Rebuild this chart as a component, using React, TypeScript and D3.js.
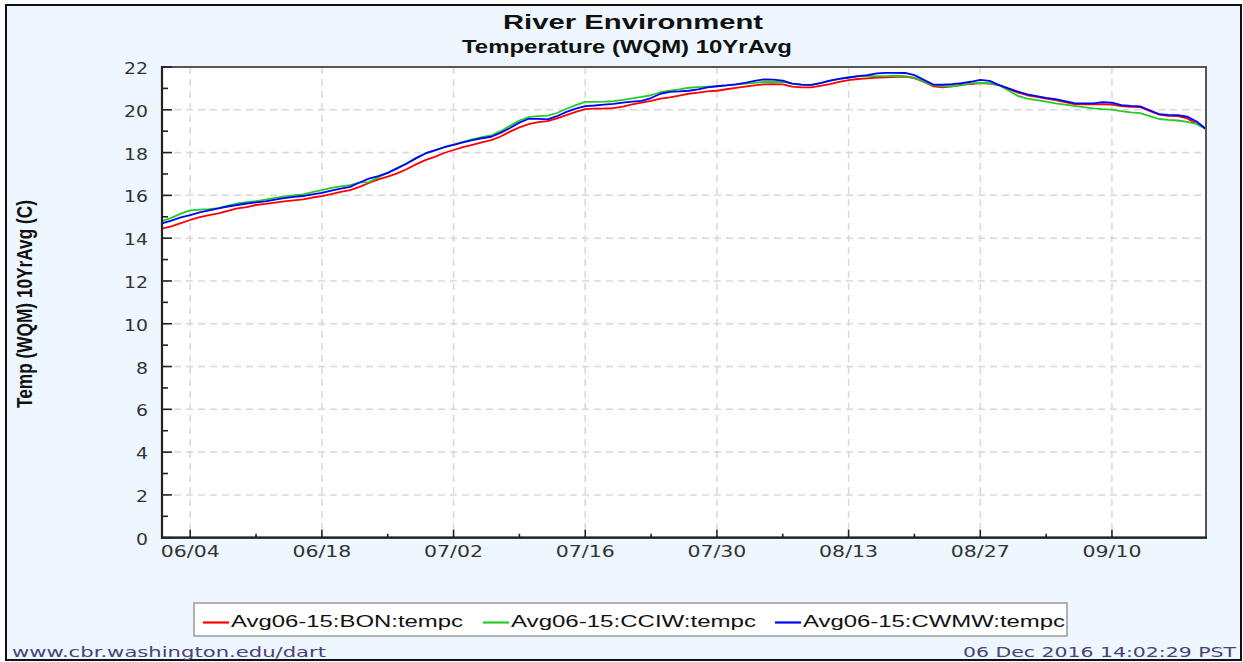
import React from 'react';
import * as d3 from 'd3';

// ---- Data (daily 10-year average water temperature, June 1 .. Sept 20) ----
const startDay = new Date(2016, 5, 1);
const endDay = new Date(2016, 8, 20);

const bonTemp = [
  14.45, 14.55, 14.70, 14.85, 14.98, 15.08, 15.16, 15.28, 15.39, 15.45,
  15.55, 15.60, 15.66, 15.72, 15.77, 15.81, 15.90, 15.97, 16.06, 16.16,
  16.25, 16.40, 16.58, 16.75, 16.88, 17.03, 17.22, 17.45, 17.65, 17.80,
  17.98, 18.12, 18.25, 18.36, 18.48, 18.58, 18.75, 18.98, 19.18, 19.33,
  19.42, 19.47, 19.60, 19.75, 19.90, 20.03, 20.05, 20.06, 20.08, 20.15,
  20.25, 20.33, 20.42, 20.52, 20.58, 20.66, 20.75, 20.80, 20.86, 20.89,
  20.96, 21.02, 21.08, 21.14, 21.19, 21.20, 21.19, 21.08, 21.05, 21.05,
  21.12, 21.20, 21.30, 21.39, 21.44, 21.47, 21.50, 21.52, 21.54, 21.55,
  21.48, 21.30, 21.10, 21.05, 21.10, 21.18, 21.20, 21.25, 21.22, 21.15,
  20.98, 20.80, 20.68, 20.60, 20.52, 20.45, 20.36, 20.27, 20.26, 20.26,
  20.26, 20.24, 20.17, 20.14, 20.12, 19.95, 19.78, 19.72, 19.70, 19.60,
  19.35, 19.10,
];

const cciwTemp = [
  14.80, 14.95, 15.15, 15.30, 15.33, 15.36, 15.40, 15.52, 15.62, 15.68,
  15.73, 15.80, 15.88, 15.94, 16.00, 16.05, 16.15, 16.25, 16.35, 16.42,
  16.48, 16.60, 16.62, 16.85, 17.05, 17.28, 17.50, 17.75, 17.96, 18.10,
  18.25, 18.37, 18.50, 18.62, 18.72, 18.80, 19.00, 19.25, 19.50, 19.66,
  19.70, 19.73, 19.85, 20.05, 20.22, 20.37, 20.37, 20.38, 20.40, 20.46,
  20.53, 20.60, 20.68, 20.82, 20.89, 20.95, 21.03, 21.06, 21.08, 21.10,
  21.14, 21.18, 21.22, 21.26, 21.30, 21.31, 21.30, 21.22, 21.17, 21.15,
  21.25, 21.35, 21.45, 21.51, 21.56, 21.58, 21.57, 21.57, 21.59, 21.57,
  21.50, 21.32, 21.15, 21.10, 21.10, 21.14, 21.23, 21.26, 21.24, 21.15,
  20.90, 20.65, 20.52, 20.45, 20.38, 20.30, 20.24, 20.18, 20.12, 20.07,
  20.03, 20.01, 19.94, 19.88, 19.84, 19.70, 19.57, 19.53, 19.50, 19.43,
  19.34, 19.10,
];

const cwmwTemp = [
  14.69, 14.82, 14.97, 15.08, 15.20, 15.30, 15.39, 15.48, 15.55, 15.62,
  15.67, 15.72, 15.80, 15.87, 15.93, 15.97, 16.05, 16.12, 16.22, 16.32,
  16.40, 16.60, 16.78, 16.90, 17.05, 17.26, 17.48, 17.73, 17.96, 18.10,
  18.25, 18.36, 18.48, 18.58, 18.67, 18.74, 18.92, 19.15, 19.40, 19.58,
  19.58, 19.55, 19.70, 19.90, 20.05, 20.17, 20.20, 20.24, 20.28, 20.33,
  20.38, 20.42, 20.55, 20.75, 20.84, 20.86, 20.89, 20.95, 21.05, 21.10,
  21.14, 21.19, 21.26, 21.35, 21.42, 21.41, 21.36, 21.22, 21.18, 21.16,
  21.25, 21.36, 21.45, 21.51, 21.57, 21.62, 21.70, 21.73, 21.73, 21.72,
  21.62, 21.40, 21.18, 21.17, 21.20, 21.25, 21.31, 21.40, 21.35, 21.15,
  21.00, 20.85, 20.72, 20.64, 20.56, 20.50, 20.40, 20.31, 20.30, 20.30,
  20.36, 20.33, 20.22, 20.18, 20.16, 19.98, 19.80, 19.76, 19.75, 19.68,
  19.45, 19.10,
];

const seriesNames = ['Avg06-15:BON:tempc', 'Avg06-15:CCIW:tempc', 'Avg06-15:CWMW:tempc'];
const seriesValues = [bonTemp, cciwTemp, cwmwTemp];
const seriesColors = ['#ff0000', '#22cc22', '#0000ff'];

const yTickValues = [0, 2, 4, 6, 8, 10, 12, 14, 16, 18, 20, 22];
const yMinorValues = [1, 3, 5, 7, 9, 11, 13, 15, 17, 19, 21];
const xTickLabels = ['06/04', '06/18', '07/02', '07/16', '07/30', '08/13', '08/27', '09/10'];

const titleText = 'River Environment';
const subtitleText = 'Temperature (WQM) 10YrAvg';
const yAxisLabel = 'Temp (WQM) 10YrAvg (C)';
const footerLeft = 'www.cbr.washington.edu/dart';
const footerRight = '06 Dec 2016 14:02:29 PST';

// ---- Layout ----
const W = 1243;
const H = 662;
const plot = { left: 162, right: 1206, top: 67, bottom: 537.7 };
const legendPos = [
  { lineX: 203, textX: 231, textW: 232 },
  { lineX: 483, textX: 511, textW: 245 },
  { lineX: 775, textX: 803, textW: 262 },
];

function parseLabel(s: string): Date {
  const [m, d] = s.split('/').map(Number);
  return new Date(2016, m - 1, d);
}

export default function App() {
  const x = d3.scaleTime().domain([startDay, endDay]).range([plot.left, plot.right]);
  const y = d3.scaleLinear().domain([0, 22]).range([plot.bottom, plot.top]);

  const majorDates = xTickLabels.map(parseLabel);
  const minorDates = majorDates
    .slice(0, -1)
    .map((d) => d3.timeDay.offset(d, 7));

  const line = d3
    .line<number>()
    .x((_, i) => x(d3.timeDay.offset(startDay, i)))
    .y((v) => y(v));

  const tickFont = "'DejaVu Sans', sans-serif";
  const sansFont = "'Liberation Sans', Arial, sans-serif";

  return (
    <svg
      width={W}
      height={H}
      style={{ position: 'absolute', left: 0, top: 0, display: 'block' }}
    >
      <rect x={0} y={0} width={W} height={H} fill="#ffffff" />
      <rect x={6} y={5} width={1235} height={655} fill="#eef6ff" stroke="#111" strokeWidth={2} />

      {/* Titles */}
      <text
        x={633}
        y={29}
        textAnchor="middle"
        fontFamily={sansFont}
        fontWeight="bold"
        fontSize={20}
        textLength={260}
        lengthAdjust="spacingAndGlyphs"
        fill="#111"
      >
        {titleText}
      </text>
      <text
        x={627}
        y={52.5}
        textAnchor="middle"
        fontFamily={sansFont}
        fontWeight="bold"
        fontSize={18.5}
        textLength={330}
        lengthAdjust="spacingAndGlyphs"
        fill="#111"
      >
        {subtitleText}
      </text>

      {/* Plot area */}
      <rect
        x={plot.left}
        y={plot.top}
        width={plot.right - plot.left}
        height={plot.bottom - plot.top}
        fill="#ffffff"
      />

      {/* Grid */}
      <g stroke="#d8d8d8" strokeWidth={1.5} strokeDasharray="7,5">
        {yTickValues
          .filter((v) => v > 0 && v < 22)
          .map((v) => (
            <line key={'gy' + v} x1={plot.left} x2={plot.right} y1={y(v)} y2={y(v)} />
          ))}
        {majorDates.map((d, i) => (
          <line key={'gx' + i} x1={x(d)} x2={x(d)} y1={plot.top} y2={plot.bottom} />
        ))}
      </g>

      {/* Series */}
      {seriesValues.map((vals, i) => (
        <path
          key={seriesNames[i]}
          d={line(vals) || ''}
          fill="none"
          stroke={seriesColors[i]}
          strokeWidth={1.8}
          strokeLinejoin="round"
        />
      ))}

      {/* Plot frame */}
      <rect
        x={plot.left}
        y={plot.top}
        width={plot.right - plot.left}
        height={plot.bottom - plot.top}
        fill="none"
        stroke="#555"
        strokeWidth={2}
      />
      <line x1={plot.left} x2={plot.left} y1={plot.top - 1} y2={plot.bottom + 1} stroke="#222" strokeWidth={2.2} />
      <line x1={plot.left - 1} x2={plot.right + 1} y1={plot.bottom} y2={plot.bottom} stroke="#222" strokeWidth={2.2} />

      {/* Ticks */}
      <g stroke="#222" strokeWidth={1.6}>
        {yTickValues.map((v) => (
          <line key={'ty' + v} x1={plot.left} x2={plot.left + 10} y1={y(v)} y2={y(v)} />
        ))}
        {yMinorValues.map((v) => (
          <line key={'tym' + v} x1={plot.left} x2={plot.left + 6} y1={y(v)} y2={y(v)} />
        ))}
        {majorDates.map((d, i) => (
          <line key={'tx' + i} x1={x(d)} x2={x(d)} y1={plot.bottom} y2={plot.bottom - 8} />
        ))}
        {minorDates.map((d, i) => (
          <line key={'txm' + i} x1={x(d)} x2={x(d)} y1={plot.bottom} y2={plot.bottom - 4} />
        ))}
      </g>

      {/* Tick labels */}
      <g fontFamily={tickFont} fontSize={15} fill="#333">
        {yTickValues.map((v) => {
          const s = String(v);
          return (
            <text
              key={'ly' + v}
              x={148}
              y={y(v) + 7}
              textAnchor="end"
              textLength={s.length * 12}
              lengthAdjust="spacingAndGlyphs"
            >
              {s}
            </text>
          );
        })}
        {majorDates.map((d, i) => (
          <text
            key={'lx' + i}
            x={x(d)}
            y={556.7}
            textAnchor="middle"
            textLength={59}
            lengthAdjust="spacingAndGlyphs"
          >
            {xTickLabels[i]}
          </text>
        ))}
      </g>

      {/* Y axis label */}
      <text
        transform={`translate(31.5, 304) rotate(-90)`}
        textAnchor="middle"
        fontFamily={sansFont}
        fontWeight="bold"
        fontSize={22}
        textLength={208}
        lengthAdjust="spacingAndGlyphs"
        fill="#111"
      >
        {yAxisLabel}
      </text>

      {/* Legend */}
      <rect x={194} y={603} width={873} height={33} fill="#ffffff" stroke="#999" strokeWidth={1.5} />
      {seriesNames.map((name, i) => (
        <g key={'lg' + i}>
          <line
            x1={legendPos[i].lineX}
            x2={legendPos[i].lineX + 26}
            y1={622.5}
            y2={622.5}
            stroke={seriesColors[i]}
            strokeWidth={2.2}
          />
          <text
            x={legendPos[i].textX}
            y={626.7}
            fontFamily={sansFont}
            fontSize={16}
            textLength={legendPos[i].textW}
            lengthAdjust="spacingAndGlyphs"
            fill="#111"
          >
            {name}
          </text>
        </g>
      ))}

      {/* Footer */}
      <text
        x={12}
        y={657}
        fontFamily={tickFont}
        fontSize={14}
        textLength={314}
        lengthAdjust="spacingAndGlyphs"
        fill="#4b4276"
      >
        {footerLeft}
      </text>
      <text
        x={1236}
        y={657}
        textAnchor="end"
        fontFamily={tickFont}
        fontSize={14}
        textLength={273}
        lengthAdjust="spacingAndGlyphs"
        fill="#4b4276"
      >
        {footerRight}
      </text>
    </svg>
  );
}
